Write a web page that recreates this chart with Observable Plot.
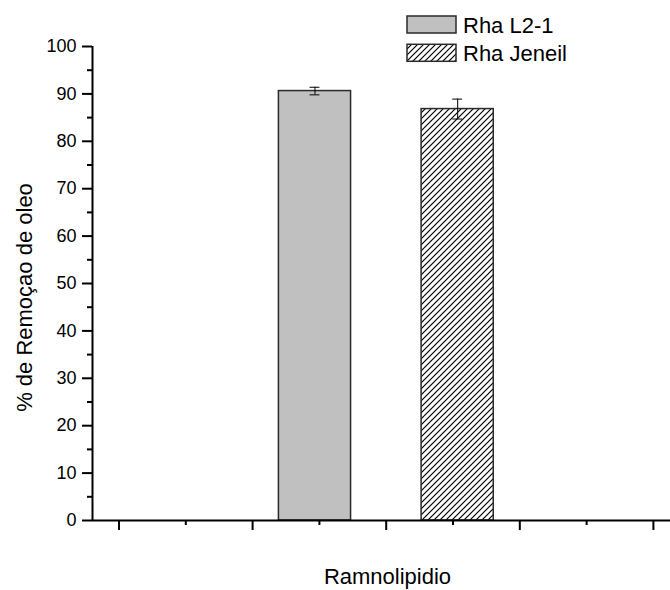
<!DOCTYPE html>
<html>
<head>
<meta charset="utf-8">
<script src="https://cdn.jsdelivr.net/npm/d3@7"></script>
<script src="https://cdn.jsdelivr.net/npm/@observablehq/plot@0.6"></script>
<style>
  html, body { margin: 0; padding: 0; background: white; }
</style>
</head>
<body>
<div id="chart"></div>
<script>
// ---- data ----
const categories = ["Rha L2-1", "Rha Jeneil"];
const values = [90.6, 86.8];
const errors = [0.8, 2.1];
const yTicks = [0, 10, 20, 30, 40, 50, 60, 70, 80, 90, 100];
const yMinorTicks = [5, 15, 25, 35, 45, 55, 65, 75, 85, 95];
const xMajorTicks = [1, 2, 3, 4, 5];
const xMinorTicks = [1.5, 2.5, 3.5, 4.5];
const yLabel = "% de Remoçao de oleo";
const xLabel = "Ramnolipidio";

// ---- layout (not data) ----
const xDomain = [0.8016, 5.128];
const firstCenter = 2.467, centerStep = 1.068, halfWidth = 0.27, capHalf = 0.037;
const fills = ["#c0c0c0", "url(#hatch)"];
const font = "'Liberation Sans', Arial, sans-serif";

const rows = categories.map((c, i) => ({
  category: c, value: values[i], error: errors[i], i,
  center: firstCenter + i * centerStep
}));

const barMarks = rows.map(r => Plot.rectY([r], {
  x1: d => d.center - halfWidth, x2: d => d.center + halfWidth,
  y1: 0, y2: "value", fill: fills[r.i], stroke: "#2a2a2a", strokeWidth: 1.5
}));

const blank = () => "";

const svg = Plot.plot({
  width: 670, height: 590,
  marginLeft: 92, marginRight: 0, marginTop: 46, marginBottom: 70,
  x: {domain: xDomain},
  y: {domain: [0, 100]},
  style: {fontFamily: font, background: "white", color: "black"},
  marks: [
    ...barMarks,
    Plot.ruleX(rows, {x: "center", y1: d => d.value - d.error, y2: d => d.value + d.error, stroke: "black", strokeWidth: 1}),
    Plot.ruleY(rows, {y: d => d.value + d.error, x1: d => d.center - capHalf, x2: d => d.center + capHalf, stroke: "black", strokeWidth: 1}),
    Plot.ruleY(rows, {y: d => d.value - d.error, x1: d => d.center - capHalf, x2: d => d.center + capHalf, stroke: "black", strokeWidth: 1}),
    Plot.ruleY([0], {stroke: "black", strokeWidth: 2}),
    Plot.ruleX([xDomain[0]], {y1: 0, y2: 100, stroke: "black", strokeWidth: 2}),
    Plot.axisY(yTicks, {anchor: "left", tickSize: 10, tickPadding: 6, fontSize: 18, strokeWidth: 2, label: null}),
    Plot.axisY(yMinorTicks, {anchor: "left", tickSize: 5, tickFormat: blank, strokeWidth: 2, label: null}),
    Plot.axisX(xMajorTicks, {anchor: "bottom", tickSize: 10, tickFormat: blank, strokeWidth: 2, label: null}),
    Plot.axisX(xMinorTicks, {anchor: "bottom", tickSize: 5, tickFormat: blank, strokeWidth: 2, label: null}),
    Plot.text([yLabel], {frameAnchor: "left", textAnchor: "middle", lineAnchor: "middle", rotate: -90, dx: -68, dy: 14, fontSize: 22, fill: "black"}),
    Plot.text([xLabel], {frameAnchor: "bottom", textAnchor: "middle", lineAnchor: "middle", dx: 6, dy: 56.5, fontSize: 22, fill: "black"})
  ]
});

// hatch pattern
const s = d3.select(svg);
const defs = s.insert("defs", ":first-child");
const pat = defs.append("pattern").attr("id", "hatch")
  .attr("patternUnits", "userSpaceOnUse").attr("width", 6).attr("height", 6);
pat.append("rect").attr("width", 6).attr("height", 6).attr("fill", "white");
pat.append("path").attr("d", "M-1,1 L1,-1 M0,6 L6,0 M5,7 L7,5")
  .attr("stroke", "black").attr("stroke-width", 1.2);

// legend
const lg = s.append("g").attr("font-family", font).attr("font-size", 22).attr("text-anchor", "start");
categories.forEach((c, i) => {
  const y0 = 16 + i * 28.3;
  lg.append("rect").attr("x", 407).attr("y", y0).attr("width", 49).attr("height", 17)
    .attr("fill", fills[i]).attr("stroke", "#2a2a2a").attr("stroke-width", 1.5);
  lg.append("text").attr("x", 463).attr("y", y0 + 16.5).attr("fill", "black")
    .style("font-size", "22px").text(c);
});

document.getElementById("chart").appendChild(svg);
</script>
</body>
</html>
